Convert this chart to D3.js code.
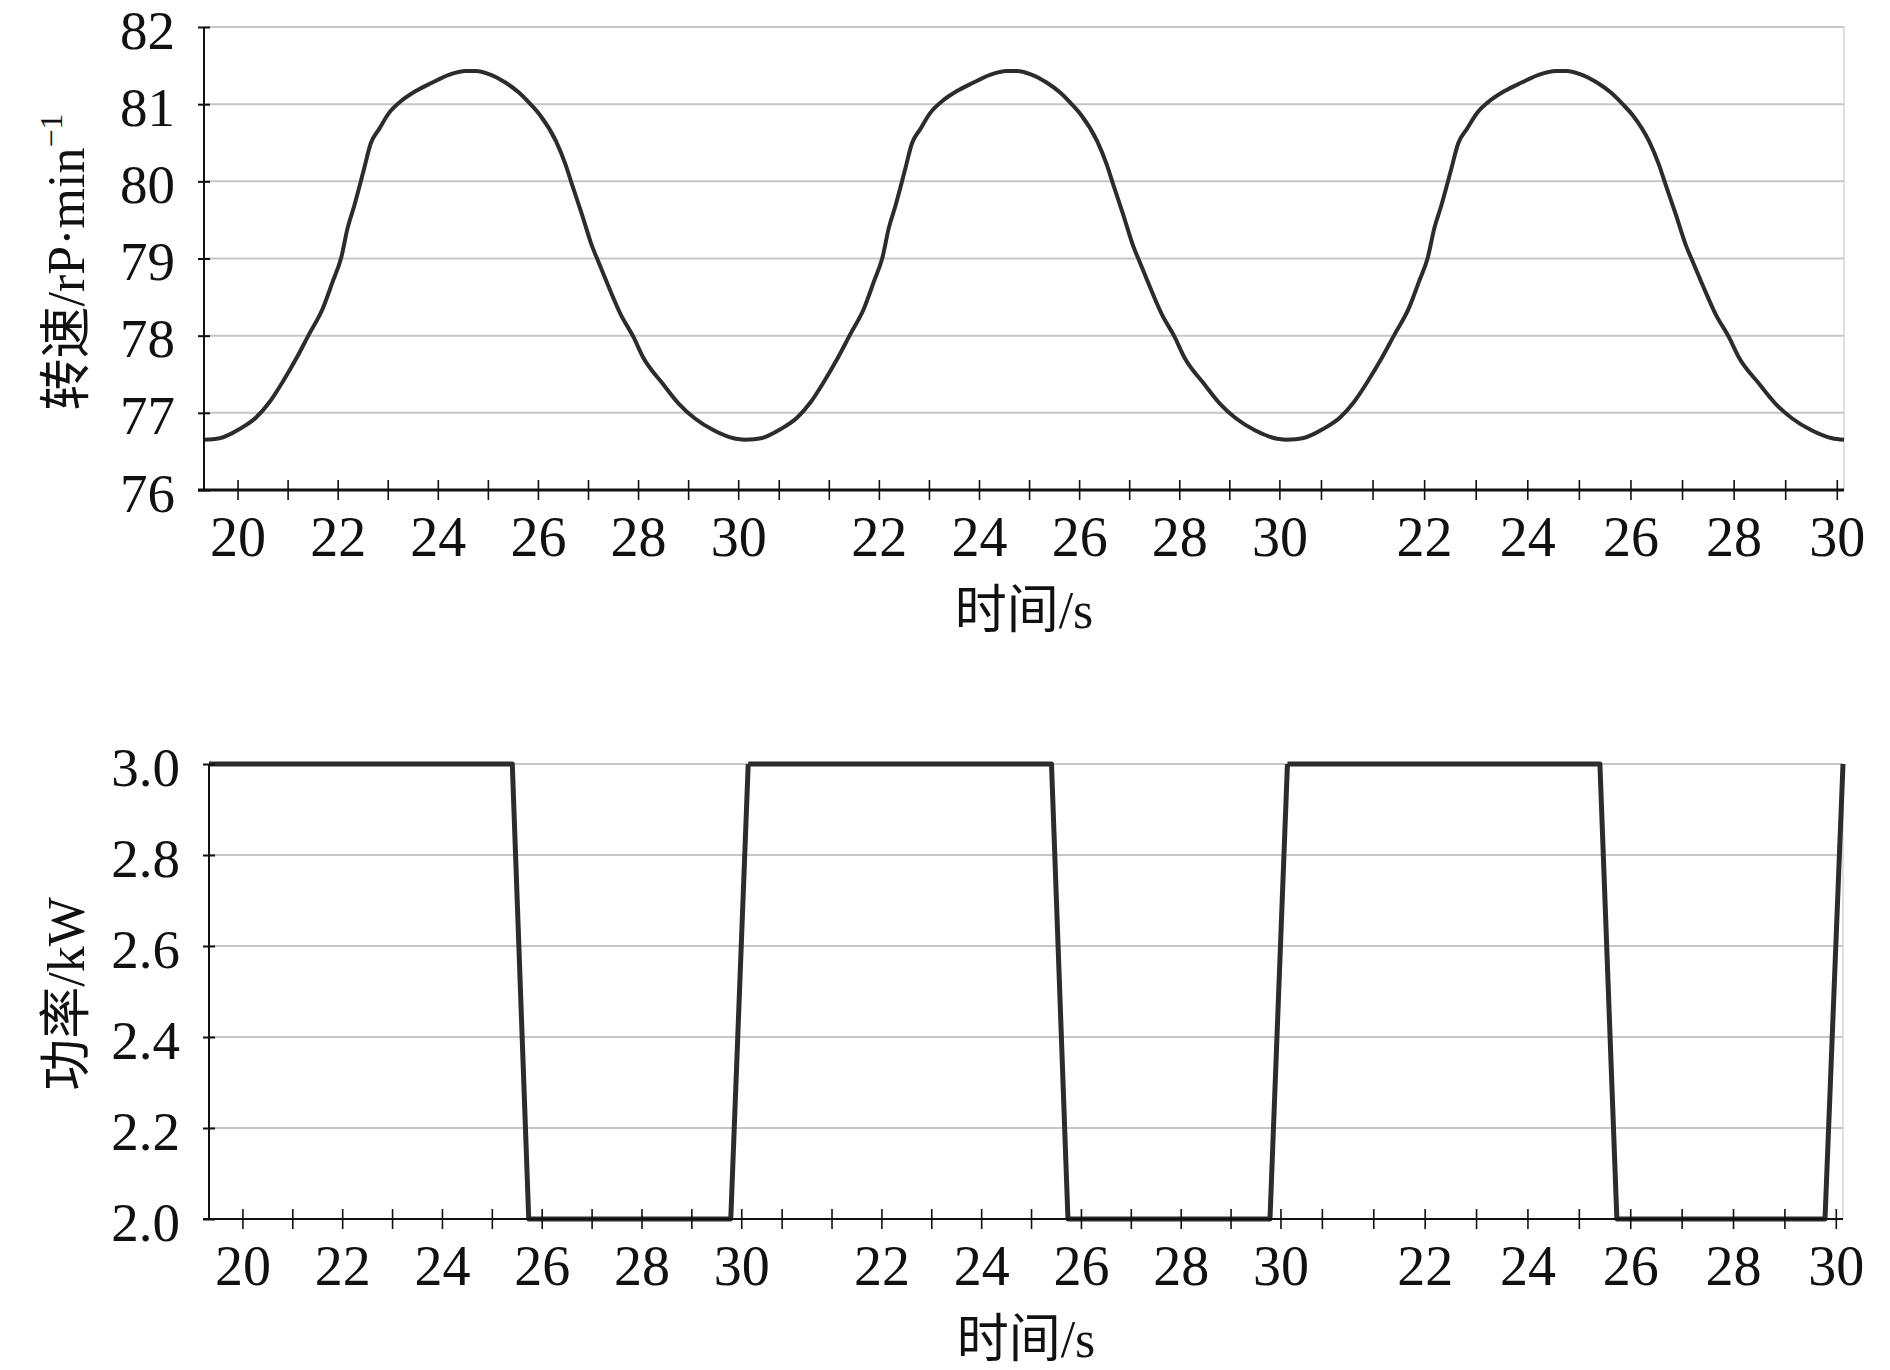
<!DOCTYPE html>
<html>
<head>
<meta charset="utf-8">
<script src="https://cdn.jsdelivr.net/npm/d3@7"></script>
<style>
  html, body { margin: 0; padding: 0; background: #fff; }
  svg { display: block; }
  text { font-family: "Liberation Serif", "Times New Roman", "Noto Sans CJK SC", serif; fill: #111; }
</style>
</head>
<body>
<svg id="chart" width="1890" height="1370"></svg>
<script>
// ---------- data (time within each 20–30 s window, repeated in three panels) ----------
const speedTime  = [19.32, 19.64, 20.04, 20.37, 20.64, 20.90, 21.17, 21.43, 21.70, 21.90,
                    22.07, 22.20, 22.33, 22.43, 22.53, 22.66, 22.83, 23.03, 23.23, 23.56,
                    23.89, 24.22, 24.56, 24.76, 25.02, 25.35, 25.62, 25.85, 26.04, 26.36,
                    26.55, 26.68, 26.88, 27.07, 27.20, 27.39, 27.65, 27.91, 28.10, 28.49,
                    28.81, 29.13, 29.52, 29.91, 30.14];
const speedValue = [76.65, 76.67, 76.79, 76.94, 77.14, 77.40, 77.70, 78.02, 78.35, 78.70,
                    79.01, 79.40, 79.68, 79.92, 80.17, 80.49, 80.68, 80.89, 81.02, 81.17,
                    81.28, 81.38, 81.43, 81.43, 81.39, 81.28, 81.15, 81.00, 80.86, 80.52,
                    80.22, 79.96, 79.57, 79.18, 78.97, 78.67, 78.28, 77.98, 77.72, 77.38,
                    77.12, 76.93, 76.77, 76.67, 76.65];
const powerTime  = [19.33, 25.41, 25.74, 29.79, 30.14];
const powerValue = [3.0, 3.0, 2.0, 2.0, 3.0];

const timeWindow = [19.33, 30.14];
const timeTicks = [20, 21, 22, 23, 24, 25, 26, 27, 28, 29, 30];
const segmentTickLabels = [
  ["20", "22", "24", "26", "28", "30"],
  ["22", "24", "26", "28", "30"],
  ["22", "24", "26", "28", "30"]
];
const speedTicks = [76, 77, 78, 79, 80, 81, 82];
const speedTickLabels = ["76", "77", "78", "79", "80", "81", "82"];
const powerTicks = [2.0, 2.2, 2.4, 2.6, 2.8, 3.0];
const powerTickLabels = ["2.0", "2.2", "2.4", "2.6", "2.8", "3.0"];

// ---------- drawing ----------
const svg = d3.select("#chart");
const segFrac = [0, 0.33, 0.66, 1];
const gridColor = "#c6c6c6";
const lineColor = "#2c2c2c";

function drawPanel(cfg) {
  const g = svg.append("g");
  const W = cfg.right - cfg.left;
  const y = d3.scaleLinear().domain(cfg.yDomain).range([cfg.bottom, cfg.top]);

  // gridlines
  g.selectAll(".grid").data(cfg.yTicks.filter(v => v !== cfg.yDomain[0])).enter()
    .append("line")
    .attr("x1", cfg.left).attr("x2", cfg.right)
    .attr("y1", d => y(d)).attr("y2", d => y(d))
    .attr("stroke", gridColor).attr("stroke-width", 2);
  // right border
  g.append("line")
    .attr("x1", cfg.right).attr("x2", cfg.right)
    .attr("y1", cfg.top).attr("y2", cfg.bottom)
    .attr("stroke", "#d4d4d4").attr("stroke-width", 1.5);

  // segments
  const scales = [0, 1, 2].map(k => d3.scaleLinear().domain(timeWindow)
    .range([cfg.left + segFrac[k] * W, cfg.left + segFrac[k + 1] * W]));

  scales.forEach((x, k) => {
    const line = d3.line().x(d => x(d[0])).y(d => y(d[1])).curve(cfg.curve);
    g.append("path")
      .datum(cfg.times.map((t, i) => [t, cfg.values[i]]))
      .attr("d", line)
      .attr("fill", "none")
      .attr("stroke", lineColor)
      .attr("stroke-width", cfg.lineWidth)
      .attr("stroke-linejoin", "round");
  });

  // x axes, one per window
  scales.forEach((x, k) => {
    const ax = g.append("g").attr("transform", `translate(0,${cfg.bottom})`)
      .call(d3.axisBottom(x).tickValues(timeTicks).tickSize(10).tickPadding(0)
        .tickFormat(d => segmentTickLabels[k].includes(String(d)) ? String(d) : ""));
    ax.select(".domain").remove();
    ax.selectAll(".tick line").attr("y1", -10).attr("y2", 10)
      .attr("stroke", "#111").attr("stroke-width", 1.6);
    ax.selectAll(".tick text")
      .attr("y", cfg.xLabelBaseline - cfg.bottom).attr("dy", null)
      .attr("font-size", 56).attr("fill", "#111")
      .attr("font-family", "'Liberation Serif', 'Times New Roman', serif");
  });
  // x axis line
  g.append("line")
    .attr("x1", cfg.left - 6).attr("x2", cfg.right)
    .attr("y1", cfg.bottom).attr("y2", cfg.bottom)
    .attr("stroke", "#111").attr("stroke-width", cfg.xAxisWidth);

  // y axis
  const ay = g.append("g").attr("transform", `translate(${cfg.left},0)`)
    .call(d3.axisLeft(y).tickValues(cfg.yTicks).tickSize(6).tickPadding(0)
      .tickFormat((d, i) => cfg.yTickLabels[i]));
  ay.select(".domain").remove();
  ay.selectAll(".tick line").attr("x1", -6).attr("x2", 6)
    .attr("stroke", "#111").attr("stroke-width", 2);
  ay.selectAll(".tick text")
    .attr("x", -29).attr("dy", null).attr("y", 21)
    .attr("text-anchor", "end")
    .attr("font-size", 55).attr("fill", "#111")
    .attr("font-family", "'Liberation Serif', 'Times New Roman', serif");
  g.append("line")
    .attr("x1", cfg.left).attr("x2", cfg.left)
    .attr("y1", cfg.top).attr("y2", cfg.bottom)
    .attr("stroke", "#111").attr("stroke-width", 2);

  // x title
  g.append("text")
    .attr("x", (cfg.left + cfg.right) / 2).attr("y", cfg.xTitleBaseline)
    .attr("text-anchor", "middle").attr("font-size", 52)
    .text("时间/s");

  // y title
  const yt = g.append("text")
    .attr("transform", `translate(${cfg.yTitleX},${cfg.yTitleY}) rotate(-90)`)
    .attr("text-anchor", "middle").attr("font-size", 52);
  cfg.yTitle(yt);
}

drawPanel({
  left: 204, right: 1844, top: 27, bottom: 490,
  yDomain: [76, 82], yTicks: speedTicks, yTickLabels: speedTickLabels,
  times: speedTime, values: speedValue, lineWidth: 4, curve: d3.curveMonotoneX,
  xAxisWidth: 3, xLabelBaseline: 556, xTitleBaseline: 628,
  yTitleX: 84, yTitleY: 262,
  yTitle: t => {
    t.append("tspan").text("转速/rP·min");
    t.append("tspan").attr("font-size", 32).attr("dy", -22).text("−1");
  }
});

drawPanel({
  left: 209, right: 1843, top: 764, bottom: 1219,
  yDomain: [2.0, 3.0], yTicks: powerTicks, yTickLabels: powerTickLabels,
  times: powerTime, values: powerValue, lineWidth: 5, curve: d3.curveLinear,
  xAxisWidth: 2.2, xLabelBaseline: 1285, xTitleBaseline: 1357,
  yTitleX: 84, yTitleY: 994,
  yTitle: t => { t.text("功率/kW"); }
});
</script>
</body>
</html>
